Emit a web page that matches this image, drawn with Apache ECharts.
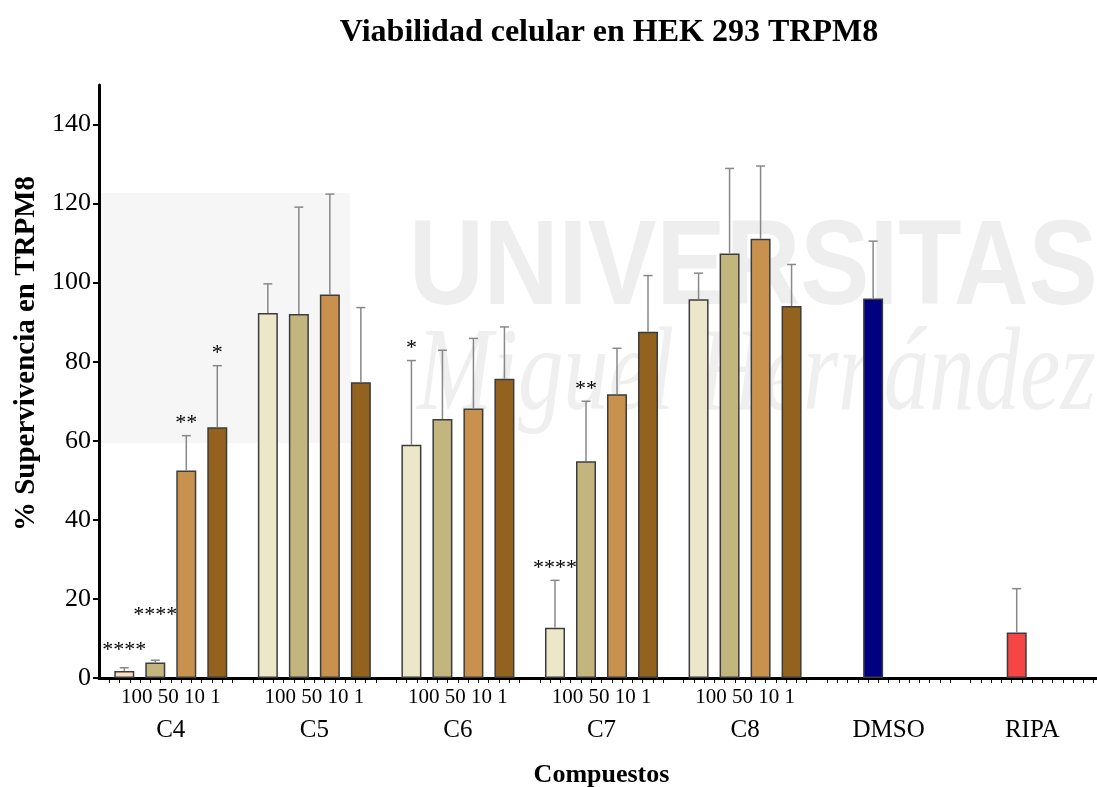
<!DOCTYPE html>
<html>
<head>
<meta charset="utf-8">
<title>Viabilidad celular en HEK 293 TRPM8</title>
<script src="https://cdn.jsdelivr.net/npm/echarts@6/dist/echarts.min.js"></script>
<style>
  html, body { margin: 0; padding: 0; background: #fff; }
  #myChart { width: 1097px; height: 787px; }
</style>
</head>
<body>
<div id="myChart"></div>
<script>
// data
var categories = ["C4", "C5", "C6", "C7", "C8", "DMSO", "RIPA"];
var doses = ["100", "50", "10", "1"];
var yTicks = [0, 20, 40, 60, 80, 100, 120, 140];

var mean100 = [1.8, 92.3, 59.0, 12.7, 95.8, "-", "-"];
var mean50 = [3.9, 92.1, 65.5, 54.8, 107.4, 96.0, 11.5];
var mean10 = [52.5, 97.0, 68.2, 71.8, 111.1, "-", "-"];
var mean1 = [63.4, 74.8, 75.7, 87.6, 94.1, "-", "-"];

var err100 = [0.8, 7.4, 21.3, 12.0, 6.6, "-", "-"];
var err50 = [0.6, 27.0, 17.4, 15.2, 21.5, 14.5, 11.1];
var err10 = [8.8, 25.4, 17.7, 11.6, 18.4, "-", "-"];
var err1 = [15.6, 18.9, 13.1, 14.2, 10.5, "-", "-"];

var sig100 = ["****", "", "*", "****", "", "", ""];
var sig50 = ["****", "", "", "**", "", "", ""];
var sig10 = ["**", "", "", "", "", "", ""];
var sig1 = ["*", "", "", "", "", "", ""];

var chartDom = document.getElementById("myChart");
var myChart = echarts.init(chartDom);
var option;

var SERIF = "Liberation Serif";
var BAR_W = 20;
var BAR_STEP = 31;
var colors = ["#EDE7C9", "#C2B67E", "#C8924E", "#93621F"];
var specialColor = { "0-0": "#FCDFC3", "1-5": "#000080", "1-6": "#F54545" };
// extra lift (px) for the star labels that would collide
var starLift = { "0-0": 6, "1-0": 33 };

var means = [mean100, mean50, mean10, mean1];
var errs = [err100, err50, err10, err1];
var sigs = [sig100, sig50, sig10, sig1];

var series = [];
means.forEach(function (m, s) {
  series.push({
    type: "bar",
    name: doses[s],
    barWidth: BAR_W,
    barGap: "55%",
    itemStyle: { color: colors[s], borderColor: "#3c3c3c", borderWidth: 1.5 },
    data: m.map(function (v, i) {
      var c = specialColor[s + "-" + i];
      return c ? { value: v, itemStyle: { color: c } } : v;
    }),
    z: 3,
  });
});

// error bars and significance stars
means.forEach(function (m, s) {
  var d = [];
  m.forEach(function (v, i) {
    if (v !== "-") d.push([i, v, errs[s][i], sigs[s][i]]);
  });
  series.push({
    type: "custom",
    data: d,
    z: 4,
    renderItem: function (params, api) {
      var i = api.value(0);
      var x = api.coord([i, 0])[0] + (s - 1.5) * BAR_STEP;
      var yBar = api.coord([i, api.value(1)])[1];
      var yTop = api.coord([i, api.value(1) + api.value(2)])[1];
      var txt = d[params.dataIndex][3];
      var lift = starLift[s + "-" + i] || 0;
      return {
        type: "group",
        children: [
          { type: "line", shape: { x1: x, y1: yBar, x2: x, y2: yTop },
            style: { stroke: "#888", lineWidth: 1.5 } },
          { type: "line", shape: { x1: x - 4.5, y1: yTop, x2: x + 4.5, y2: yTop },
            style: { stroke: "#888", lineWidth: 1.5 } },
          { type: "text",
            style: { text: txt, x: x, y: yTop - 12 - lift, align: "center", verticalAlign: "middle",
              font: "22px '" + SERIF + "'", fill: "#000" } },
        ],
      };
    },
  });
});

option = {
  animation: false,
  backgroundColor: "#fff",
  title: {
    text: "Viabilidad celular en HEK 293 TRPM8",
    left: 604,
    top: 12,
    textAlign: "center",
    textStyle: { fontFamily: SERIF, fontWeight: "bold", fontSize: 32, color: "#000" },
  },
  graphic: [
    { type: "rect", z: -1, shape: { x: 101, y: 193, width: 249, height: 250 },
      style: { fill: "#f6f6f6" } },
    { type: "text", z: -1, x: 409, y: 271, scaleX: 0.856,
      style: { text: "UNIVERSITAS", font: "bold 121px 'Liberation Sans'", fill: "#eeeeee",
        verticalAlign: "middle" } },
    { type: "text", z: -1, x: 417, y: 378, scaleX: 0.77,
      style: { text: "Miguel Hernández", font: "italic 118px 'Liberation Serif'", fill: "#efefef",
        verticalAlign: "middle" } },
  ],
  grid: { left: 99, right: -7, top: 85, bottom: 109, containLabel: false, outerBoundsMode: "none" },
  xAxis: [
    {
      type: "category",
      data: categories,
      axisLine: { lineStyle: { color: "#000", width: 3 } },
      axisTick: { alignWithLabel: true, length: 6, lineStyle: { color: "#000", width: 3 } },
      axisLabel: {
        margin: 6,
        interval: 0,
        color: "#000",
        formatter: function (v, i) {
          var sub = mean100[i] === "-" ? " " : doses.join(" ");
          return "{a|" + sub + "}\n{b|" + v + "}";
        },
        rich: {
          a: { fontFamily: SERIF, fontSize: 21, lineHeight: 26, color: "#000" },
          b: { fontFamily: SERIF, fontSize: 25, lineHeight: 40, color: "#000" },
        },
      },
      name: "Compuestos",
      nameLocation: "middle",
      nameGap: 84,
      nameTextStyle: { fontFamily: SERIF, fontWeight: "bold", fontSize: 26, color: "#000" },
    },
    {
      type: "value",
      position: "bottom",
      min: 0,
      max: 7,
      interval: 1,
      axisLine: { show: false },
      axisTick: { show: false },
      axisLabel: { show: false },
      splitLine: { show: false },
      minorTick: { show: true, splitNumber: 14, length: 5, lineStyle: { color: "#000", width: 1 } },
    },
  ],
  yAxis: {
    type: "value",
    min: 0,
    max: 150,
    interval: 10,
    axisLine: { show: true, lineStyle: { color: "#000", width: 3 } },
    axisTick: { show: true, customValues: yTicks, length: 6, lineStyle: { color: "#000", width: 2 } },
    axisLabel: { customValues: yTicks, margin: 8, fontFamily: SERIF, fontSize: 26, color: "#000" },
    splitLine: { show: false },
    name: "% Supervivencia en TRPM8",
    nameLocation: "middle",
    nameGap: 58,
    nameRotate: 90,
    nameTextStyle: { fontFamily: SERIF, fontWeight: "bold", fontSize: 29, color: "#000", padding: [0, 0, 0, 56] },
  },
  series: series,
};

option && myChart.setOption(option);
</script>
</body>
</html>
